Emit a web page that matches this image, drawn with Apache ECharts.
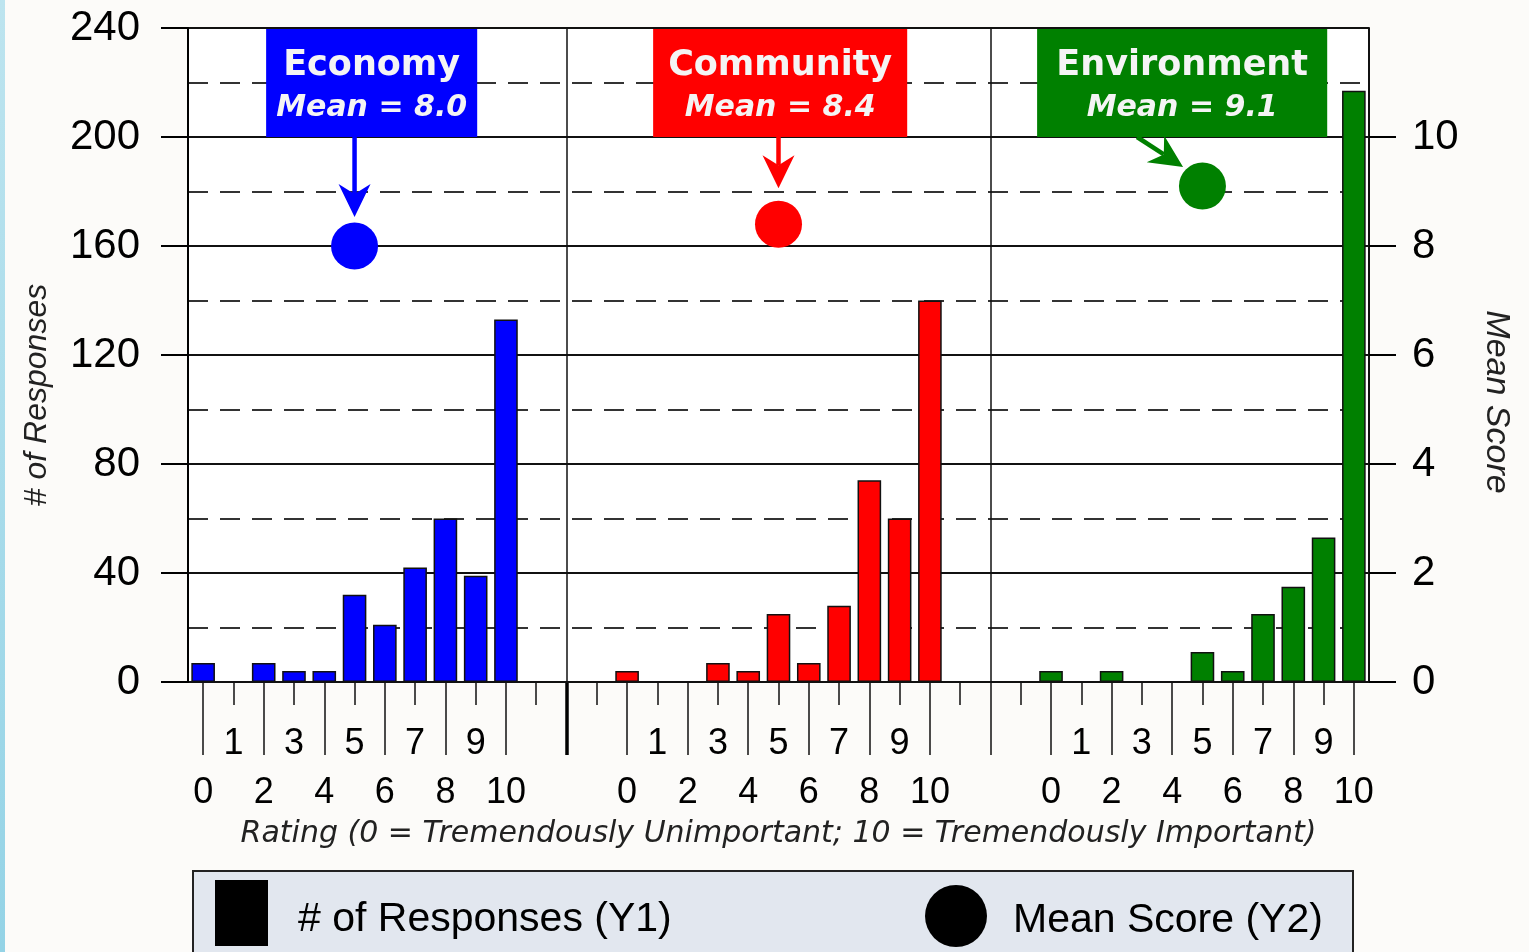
<!DOCTYPE html>
<html>
<head>
<meta charset="utf-8">
<script src="https://cdn.jsdelivr.net/npm/echarts@6/dist/echarts.min.js"></script>
<style>
  html, body { margin: 0; padding: 0; background: #fcfbf9; }
  #chart { width: 1529px; height: 952px; }
  .edge { position: absolute; left: 0; top: 0; width: 5px; height: 952px; background: linear-gradient(#bde4ef, #94d3e6); }
</style>
</head>
<body>
<div id="chart"></div>
<div class="edge"></div>
<script>
// ---- data ----
const groups = ['Economy', 'Community', 'Environment'];
const ratings = [0, 1, 2, 3, 4, 5, 6, 7, 8, 9, 10];
const economy     = [7, 0, 7, 4, 4, 32, 21, 42, 60, 39, 133];
const community   = [4, 0, 0, 7, 4, 25, 7, 28, 74, 60, 140];
const environment = [4, 0, 4, 0, 0, 11, 4, 25, 35, 53, 217];
const means = [8.0, 8.4, 9.1];
const responseTicks = [0, 40, 80, 120, 160, 200, 240];
const meanTicks = [0, 2, 4, 6, 8, 10];

const counts = [economy, community, environment];

// ---- layout / style ----
const groupColors = ['#0000ff', '#ff0000', '#008000'];
const groupStart = [0, 14, 28];   // first slot of each group on the shared axis
const slotCount = 39;
const separators = [12, 26];      // slots holding the group divider lines
const markerRating = 5;           // rating column where each mean marker sits
const FONT = 'Liberation Sans, Arial, sans-serif';
const BOXFONT = 'DejaVu Sans, Verdana, sans-serif';

// slot -> {group, rating} map and unique category keys
const slotInfo = [];
const categories = [];
for (let s = 0; s < slotCount; s++) {
  let info = null;
  groupStart.forEach((st, g) => {
    if (s >= st && s < st + ratings.length) info = { g, r: ratings[s - st] };
  });
  slotInfo.push(info);
  categories.push(info ? groups[info.g] + ' ' + info.r : 'slot ' + s);
}

const barData = slotInfo.map(info => info
  ? { value: counts[info.g][ratings.indexOf(info.r)], itemStyle: { color: groupColors[info.g] } }
  : null);

const meanData = groups.map((g, i) => ({
  value: [categories[groupStart[i] + ratings.indexOf(markerRating)], means[i]],
  itemStyle: { color: groupColors[i], opacity: 1 }
}));

function labelFor(idx, wantOdd) {
  const info = slotInfo[idx];
  if (!info) return '';
  return (info.r % 2 === 1) === wantOdd ? String(info.r) : '';
}

const chart = echarts.init(document.getElementById('chart'), null, { renderer: 'canvas' });

const legendText = (padTop, padLeft) => ({
  rich: { t: { fontFamily: FONT, fontSize: 41, color: '#000', padding: [padTop, 0, 0, padLeft] } }
});

const option = {
  animation: false,
  backgroundColor: '#fcfbf9',
  grid: {
    left: 188, right: 160, top: 28, bottom: 270,
    show: true, backgroundColor: '#ffffff', borderWidth: 0,
    outerBoundsMode: 'none'
  },
  legend: [
    {
      data: [{ name: '# of Responses (Y1)', icon: 'rect', itemStyle: { color: '#000', borderWidth: 0, opacity: 1 } }],
      left: 215, top: 880, padding: 0,
      itemWidth: 53, itemHeight: 66, selectedMode: false,
      formatter: '{t|{name}}',
      textStyle: legendText(14, 25)
    },
    {
      data: [{ name: 'Mean Score (Y2)', icon: 'circle', itemStyle: { color: '#000', opacity: 1 } }],
      left: 925, top: 885, padding: 0,
      itemWidth: 62, itemHeight: 62, selectedMode: false,
      formatter: '{t|{name}}',
      textStyle: legendText(10, 21)
    }
  ],
  xAxis: [
    {
      type: 'category', data: categories, position: 'bottom', gridIndex: 0,
      axisLine: { show: true, lineStyle: { color: '#000', width: 2 } },
      axisTick: { show: true, alignWithLabel: true, interval: 0, length: 23, lineStyle: { color: '#111', width: 1.5 } },
      axisLabel: {
        interval: 0, margin: 44, fontFamily: FONT, fontSize: 36, color: '#000',
        formatter: (v, idx) => labelFor(idx, true)
      },
      splitLine: { show: false },
      name: 'Rating (0 = Tremendously Unimportant; 10 = Tremendously Important)',
      nameLocation: 'middle', nameGap: 137,
      nameTextStyle: { fontFamily: 'DejaVu Sans, sans-serif', fontStyle: 'italic', fontSize: 30, color: '#222' }
    },
    {
      type: 'category', data: categories, position: 'bottom', gridIndex: 0,
      axisLine: { show: false },
      axisTick: { show: true, alignWithLabel: true, interval: (idx) => idx % 2 === 0, length: 73, lineStyle: { color: '#111', width: 1.5 } },
      axisLabel: {
        interval: 0, margin: 93, fontFamily: FONT, fontSize: 36, color: '#000',
        formatter: (v, idx) => labelFor(idx, false)
      },
      splitLine: { show: false }
    },
    {
      type: 'category', data: categories, position: 'bottom', gridIndex: 0,
      axisLine: { show: false },
      axisTick: { show: true, alignWithLabel: true, interval: (idx) => idx === separators[0], length: 73, lineStyle: { color: '#000', width: 3.5 } },
      axisLabel: { show: false },
      splitLine: { show: false }
    }
  ],
  yAxis: [
    {
      type: 'value', min: 0, max: 240, interval: 40, position: 'left', z: 1,
      axisLine: { show: true, lineStyle: { color: '#000', width: 2 } },
      axisTick: { show: true, length: 27, customValues: responseTicks, lineStyle: { color: '#000', width: 2 } },
      axisLabel: { margin: 48, fontFamily: FONT, fontSize: 42, color: '#000', customValues: responseTicks },
      splitLine: { show: true, lineStyle: { color: '#111', width: 2, type: 'solid' } }
    },
    {
      type: 'value', min: 0, max: 12, interval: 2, position: 'right',
      axisLine: { show: true, lineStyle: { color: '#111', width: 2 } },
      axisTick: { show: true, length: 27, customValues: meanTicks, lineStyle: { color: '#000', width: 2 } },
      axisLabel: { margin: 43, fontFamily: FONT, fontSize: 42, color: '#000', customValues: meanTicks },
      splitLine: { show: false }
    },
    {
      type: 'value', min: 0, max: 240, interval: 20, position: 'left', z: 0,
      axisLine: { show: false }, axisTick: { show: false }, axisLabel: { show: false },
      splitLine: { show: true, lineStyle: { color: '#333', width: 2, type: [20, 12] } }
    }
  ],
  series: [
    {
      name: '# of Responses (Y1)', type: 'bar', xAxisIndex: 0, yAxisIndex: 0,
      barWidth: '78%', data: barData,
      itemStyle: { borderColor: '#111', borderWidth: 1.5 },
      markLine: {
        silent: true, symbol: ['none', 'none'], label: { show: false },
        lineStyle: { color: '#111', width: 1.5, type: 'solid' },
        data: separators.map(s => ({ xAxis: categories[s] }))
      }
    },
    {
      name: 'Mean Score (Y2)', type: 'scatter', xAxisIndex: 0, yAxisIndex: 1,
      symbol: 'circle', symbolSize: 47, z: 5, data: meanData,
      itemStyle: { opacity: 1 }
    }
  ]
};

chart.setOption(option);

// ---- annotation callouts, placed through the axes ----
const callouts = [
  { from: 2.08, to: 9.05, start: [5, 10], tip: [5, 8.53] },
  { from: 14.86, to: 23.25, start: [19, 10], tip: [19, 9.06] },
  { from: 27.54, to: 37.12, start: [30.84, 10], tip: [32.36, 9.45] }
];

function slotX(s) {
  const a = chart.convertToPixel({ xAxisIndex: 0 }, categories[0]);
  const b = chart.convertToPixel({ xAxisIndex: 0 }, categories[1]);
  return a + s * (b - a);
}
const y1 = v => chart.convertToPixel({ yAxisIndex: 0 }, v);
const y2 = v => chart.convertToPixel({ yAxisIndex: 1 }, v);

const graphics = [];
callouts.forEach((c, i) => {
  const x0 = slotX(c.from), x1 = slotX(c.to);
  const top = y1(240), bottom = y1(200);
  const cx = (x0 + x1) / 2;
  graphics.push({
    type: 'rect', z: 10,
    shape: { x: x0, y: top + 1, width: x1 - x0, height: bottom - top - 1 },
    style: { fill: groupColors[i] }
  });
  graphics.push({
    type: 'text', z: 11, x: cx, y: top + 38,
    style: { text: groups[i], fill: '#f4f4f4', font: 'bold 35px ' + BOXFONT, align: 'center', verticalAlign: 'middle' }
  });
  graphics.push({
    type: 'text', z: 11, x: cx, y: top + 80,
    style: { text: 'Mean = ' + means[i].toFixed(1), fill: '#f4f4f4', font: 'italic bold 30px ' + BOXFONT, align: 'center', verticalAlign: 'middle' }
  });
  // arrow from box to the mean marker
  const sx = slotX(c.start[0]), sy = y2(c.start[1]);
  const tx = slotX(c.tip[0]), ty = y2(c.tip[1]);
  const len = Math.hypot(tx - sx, ty - sy);
  const dx = (tx - sx) / len, dy = (ty - sy) / len;
  const nx = -dy, ny = dx;
  const bx = tx - dx * 33, by = ty - dy * 33;
  const mx = tx - dx * 23, my = ty - dy * 23;
  graphics.push({
    type: 'polyline', z: 10,
    shape: { points: [[sx, sy], [mx, my]] },
    style: { stroke: groupColors[i], lineWidth: 4.5, fill: null }
  });
  graphics.push({
    type: 'polygon', z: 10,
    shape: { points: [[tx, ty], [bx + nx * 16, by + ny * 16], [mx, my], [bx - nx * 16, by - ny * 16]] },
    style: { fill: groupColors[i] }
  });
});

// axis titles
graphics.push({
  type: 'text', x: 37, y: 395, rotation: Math.PI / 2,
  style: { text: '# of Responses', fill: '#222', font: 'italic 32px ' + FONT, align: 'center', verticalAlign: 'middle' }
});
graphics.push({
  type: 'text', x: 1496, y: 402, rotation: -Math.PI / 2,
  style: { text: 'Mean Score', fill: '#222', font: 'italic 34px ' + FONT, align: 'center', verticalAlign: 'middle' }
});
// legend frame
graphics.push({
  type: 'rect', z: 1,
  shape: { x: 193, y: 871, width: 1160, height: 100 },
  style: { fill: '#e2e7ef', stroke: '#222', lineWidth: 2 }
});

chart.setOption({ graphic: graphics });
</script>
</body>
</html>
